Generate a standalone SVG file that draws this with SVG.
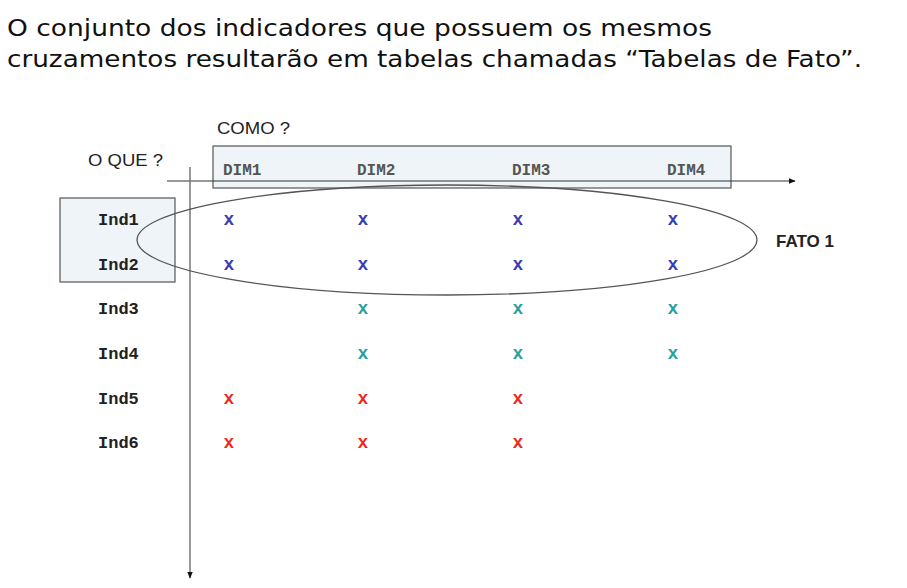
<svg xmlns="http://www.w3.org/2000/svg" width="907" height="588" viewBox="0 0 907 588">
<defs>
<marker id="arr" viewBox="0 0 10 10" refX="9" refY="5" markerWidth="7" markerHeight="7" orient="auto" markerUnits="userSpaceOnUse"><path d="M0,1 L10,5 L0,9 z" fill="#111"/></marker>
<style>
.title{font-family:"DejaVu Sans",Verdana,sans-serif;font-size:23.5px;fill:#111}
.lbl{font-family:"Liberation Sans",Arial,sans-serif;font-size:17px;fill:#222}
.dim{font-family:"Liberation Mono","Courier New",monospace;font-size:16px;font-weight:bold;fill:#555}
.ind{font-family:"Liberation Mono","Courier New",monospace;font-size:17px;font-weight:bold;fill:#222}
.x{font-family:"Liberation Mono","Courier New",monospace;font-size:18px;font-weight:bold;text-anchor:middle}
.b{fill:#3c3cb4}.t{fill:#2a9f9f}.r{fill:#ee2a1e}
.box{fill:#eef4f7;stroke:#555;stroke-width:1.2}
</style>
</defs>
<rect width="907" height="588" fill="#fff"/>
<text class="title" x="7" y="36" textLength="705" lengthAdjust="spacingAndGlyphs">O conjunto dos indicadores que possuem os mesmos</text>
<text class="title" x="7" y="67" textLength="855" lengthAdjust="spacingAndGlyphs">cruzamentos resultarão em tabelas chamadas “Tabelas de Fato”.</text>
<g id="como"><text class="lbl" x="217" y="134" textLength="73" lengthAdjust="spacingAndGlyphs">COMO ?</text></g>
<g id="oque"><text class="lbl" x="88" y="166" textLength="75" lengthAdjust="spacingAndGlyphs">O QUE ?</text></g>
<g id="dims">
<rect class="box" x="213" y="146" width="518" height="42"/>
<text class="dim" x="223" y="175">DIM1</text>
<text class="dim" x="357" y="175">DIM2</text>
<text class="dim" x="512" y="175">DIM3</text>
<text class="dim" x="667" y="175">DIM4</text>
</g>
<g id="inds">
<rect class="box" x="60" y="198" width="115" height="84"/>
<text class="ind" x="98" y="225">Ind1</text>
<text class="ind" x="98" y="270">Ind2</text>
<text class="ind" x="98" y="314">Ind3</text>
<text class="ind" x="98" y="359">Ind4</text>
<text class="ind" x="98" y="404">Ind5</text>
<text class="ind" x="98" y="448">Ind6</text>
</g>
<g id="connectors" stroke="#333" stroke-width="1.2" fill="none">
<line x1="167" y1="181" x2="795" y2="181" marker-end="url(#arr)"/>
<line x1="190" y1="167" x2="190" y2="578" stroke="#777" stroke-width="1.5" marker-end="url(#arr)"/>
</g>
<g id="marks">
<text class="x b" x="229" y="225">x</text><text class="x b" x="363" y="225">x</text><text class="x b" x="518" y="225">x</text><text class="x b" x="673" y="225">x</text>
<text class="x b" x="229" y="270">x</text><text class="x b" x="363" y="270">x</text><text class="x b" x="518" y="270">x</text><text class="x b" x="673" y="270">x</text>
<text class="x t" x="363" y="314">x</text><text class="x t" x="518" y="314">x</text><text class="x t" x="673" y="314">x</text>
<text class="x t" x="363" y="359">x</text><text class="x t" x="518" y="359">x</text><text class="x t" x="673" y="359">x</text>
<text class="x r" x="229" y="404">x</text><text class="x r" x="363" y="404">x</text><text class="x r" x="518" y="404">x</text>
<text class="x r" x="229" y="448">x</text><text class="x r" x="363" y="448">x</text><text class="x r" x="518" y="448">x</text>
</g>
<g id="fato1">
<ellipse cx="447" cy="240" rx="310" ry="55" fill="none" stroke="#555" stroke-width="1.3"/>
<text class="lbl" x="776" y="247" font-size="16" font-weight="bold" fill="#111">FATO 1</text>
</g>
</svg>
